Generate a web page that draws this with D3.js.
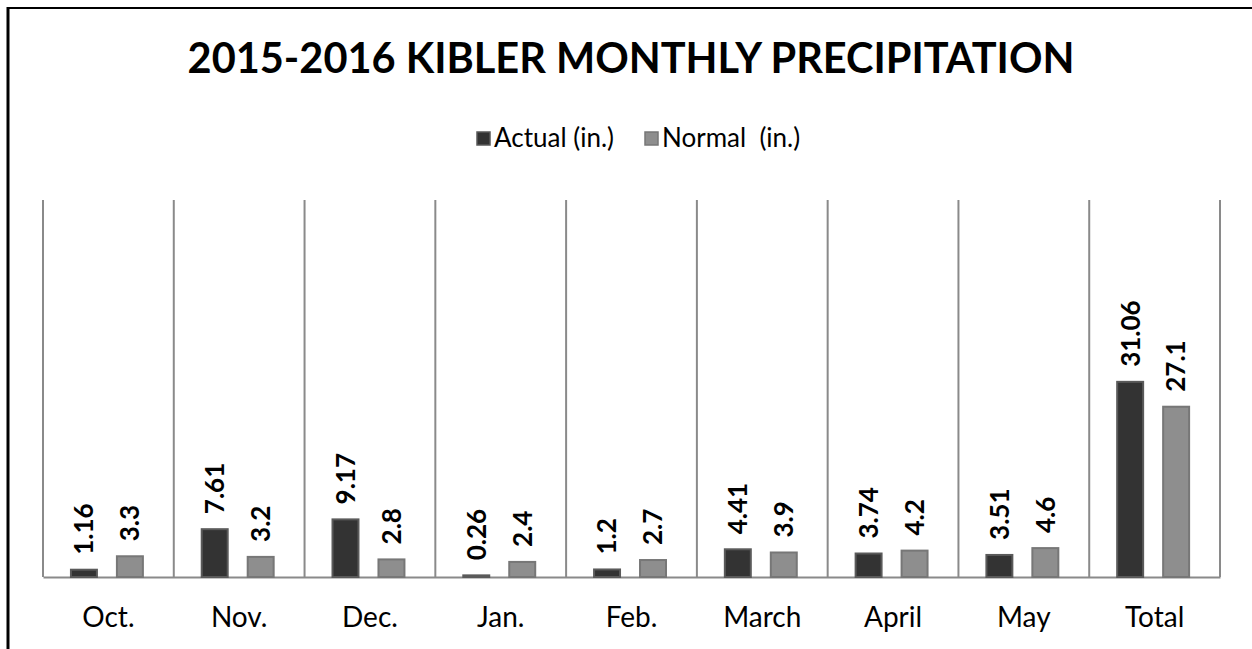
<!DOCTYPE html>
<html><head><meta charset="utf-8">
<script src="https://cdn.jsdelivr.net/npm/d3@7"></script>
<style>html,body{margin:0;padding:0;background:#fff;}svg{display:block;}</style>
</head><body>
<svg id="c" width="1252" height="649"></svg>
<script>
const categories = ["Oct.","Nov.","Dec.","Jan.","Feb.","March","April","May","Total"];
const actual = [1.16,7.61,9.17,0.26,1.2,4.41,3.74,3.51,31.06];
const normal = [3.3,3.2,2.8,2.4,2.7,3.9,4.2,4.6,27.1];
const seriesNames = ["Actual (in.)","Normal  (in.)"];
const seriesKeys = ["actual","normal"];
const titleText = "2015-2016 KIBLER MONTHLY PRECIPITATION";

(function(){
const data = categories.map((c,i)=>({cat:c, actual:actual[i], normal:normal[i]}));
const svg = d3.select("#c");
const font = "Lato, 'Open Sans', sans-serif";
const fills = {actual:"#333333", normal:"#8e8e8e"};
const strokes = {actual:"#5a5a5a", normal:"#777777"};

// frame
svg.append("line").attr("x1",8).attr("x2",1252).attr("y1",8).attr("y2",8).attr("stroke","#000").attr("stroke-width",2);
svg.append("line").attr("x1",8).attr("x2",8).attr("y1",7).attr("y2",649).attr("stroke","#000").attr("stroke-width",3);

const pL=43, pR=1220, pT=200, pB=577;
const x = d3.scaleBand().domain(categories).range([pL,pR]).paddingInner(0).paddingOuter(0);
const xs = d3.scaleBand().domain(seriesKeys).range([0,x.bandwidth()])
  .paddingInner(0.435).paddingOuter(0.64).align(0.475);
const y = d3.scaleLinear().domain([0,60]).range([pB,pT]);

// vertical gridlines (category separators)
const seps = categories.map(c=>x(c)).concat([pR]);
svg.append("g").selectAll("line").data(seps).join("line")
  .attr("x1",d=>d).attr("x2",d=>d).attr("y1",pT).attr("y2",pB)
  .attr("stroke","#8a8a8a").attr("stroke-width",2);

// x axis
const xAxis = svg.append("g").attr("transform",`translate(0,${pB})`)
  .call(d3.axisBottom(x).tickSize(0).tickPadding(30));
xAxis.select(".domain").attr("stroke","#8a8a8a").attr("stroke-width",2);
xAxis.selectAll("text").attr("font-family",font).attr("font-size",28).attr("fill","#000");

// bars
const g = svg.append("g").selectAll("g").data(data).join("g")
  .attr("transform",d=>`translate(${x(d.cat)},0)`);
seriesKeys.forEach(k=>{
  g.append("rect").attr("x",xs(k)).attr("width",xs.bandwidth())
    .attr("y",d=>y(d[k])).attr("height",d=>pB-y(d[k]))
    .attr("fill",fills[k]).attr("stroke",strokes[k]).attr("stroke-width",2);
  g.append("text")
    .attr("transform",d=>`translate(${xs(k)+xs.bandwidth()/2},${y(d[k])-15}) rotate(-90)`)
    .attr("dy","0.36em").attr("text-anchor","start")
    .attr("font-family",font).attr("font-weight","bold").attr("font-size",26).attr("fill","#000")
    .text(d=>d[k]);
});

// title
svg.append("text").attr("x",631).attr("y",73).attr("text-anchor","middle")
  .attr("font-family",font).attr("font-weight","bold").attr("font-size",41.5).attr("fill","#000")
  .text(titleText);

// legend
const lg = svg.append("g");
const legX=[477,645];
seriesKeys.forEach((k,i)=>{
  lg.append("rect").attr("x",legX[i]).attr("y",132).attr("width",13).attr("height",13)
    .attr("fill",fills[k]).attr("stroke",strokes[k]).attr("stroke-width",1.5);
  lg.append("text").attr("x",legX[i]+17).attr("y",147).attr("font-family",font)
    .attr("font-size",26).attr("fill","#000").style("white-space","pre").text(seriesNames[i]);
});
})();
</script>
</body></html>
